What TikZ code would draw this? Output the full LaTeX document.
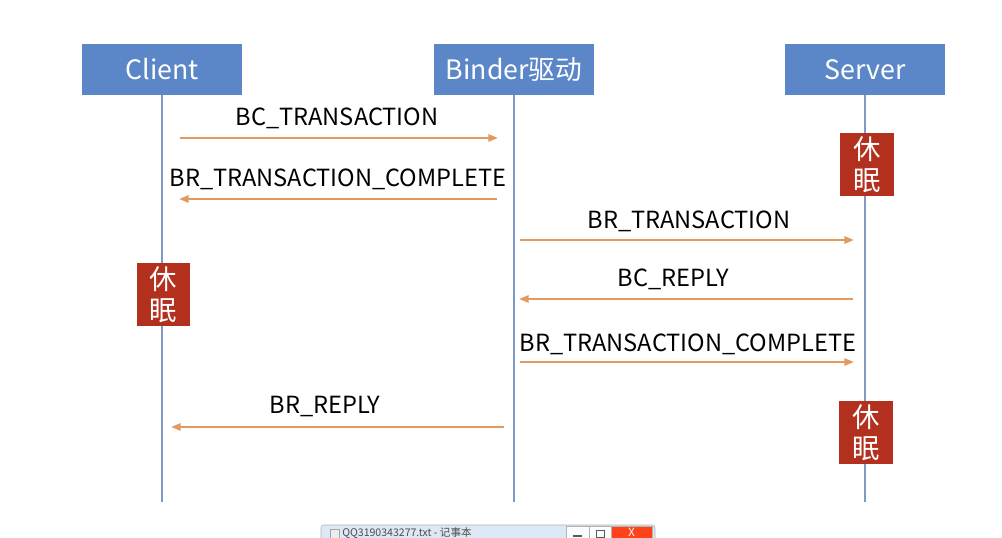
\documentclass[tikz,border=0pt]{standalone}
\usepackage{fontspec}
\setmainfont{Noto Sans CJK SC}
\usetikzlibrary{arrows.meta}
\definecolor{roleblue}{HTML}{5B87C8}
\definecolor{lifeblue}{HTML}{7F98C6}
\definecolor{msgorange}{HTML}{E39A60}
\definecolor{sleepred}{HTML}{B3301F}
\definecolor{winbar}{HTML}{DCE8F5}
\tikzset{
  role/.style={fill=roleblue, text=white, minimum width=4cm, minimum height=1.275cm,
    inner sep=0pt, font=\fontsize{19}{19}\selectfont},
  life/.style={lifeblue, line width=1.4pt},
  msg/.style={msgorange, line width=1.5pt, -{Triangle[length=2.4mm,width=1.8mm]}},
  msglabel/.style={text=black, inner sep=0pt, font=\fontsize{16.8}{17}\selectfont},
  sleep/.style={fill=sleepred, text=white, minimum width=1.33cm, minimum height=1.58cm,
    inner sep=0pt, align=center, font=\fontsize{19.5}{22}\selectfont},
}
\begin{document}
\begin{tikzpicture}[x=0.025cm, y=-0.025cm]
    \useasboundingbox (0,0) rectangle (1002,538);
    \clip (0,0) rectangle (1002,538);

    % roles and lifelines
    \node[role] (client) at (162,69.5) {Client};
    \node[role] (binder) at (514,69.5) {Binder驱动};
    \node[role] (server) at (865,69.5) {Server};
    \coordinate (clientend) at (162,502);
    \coordinate (binderend) at (514,502);
    \coordinate (serverend) at (865,502);
    \draw[life] (client.south) -- (clientend);
    \draw[life] (binder.south) -- (binderend);
    \draw[life] (server.south) -- (serverend);

    % sleeping
    \node[sleep] (sleepA) at (867,164.5) {休\\眠};
    \node[sleep] (sleepB) at (163.5,294.5) {休\\眠};
    \node[sleep] (sleepC) at (866,432.5) {休\\眠};

    % messages
    \coordinate (m1s) at (180,138);  \coordinate (m1e) at (498,138);
    \coordinate (m2s) at (497,199);  \coordinate (m2e) at (179,199);
    \coordinate (m3s) at (520,240);  \coordinate (m3e) at (854,240);
    \coordinate (m4s) at (853,299);  \coordinate (m4e) at (519,299);
    \coordinate (m5s) at (520,362);  \coordinate (m5e) at (854,362);
    \coordinate (m6s) at (504,427);  \coordinate (m6e) at (171,427);
    \draw[msg] (m1s) -- (m1e);
    \draw[msg] (m2s) -- (m2e);
    \draw[msg] (m3s) -- (m3e);
    \draw[msg] (m4s) -- (m4e);
    \draw[msg] (m5s) -- (m5e);
    \draw[msg] (m6s) -- (m6e);
    \node[msglabel] (l1) at (337,118) {BC\_TRANSACTION};
    \node[msglabel] (l2) at (338,179) {BR\_TRANSACTION\_COMPLETE};
    \node[msglabel] (l3) at (689,221) {BR\_TRANSACTION};
    \node[msglabel] (l4) at (673,279) {BC\_REPLY};
    \node[msglabel] (l5) at (688,344) {BR\_TRANSACTION\_COMPLETE};
    \node[msglabel] (l6) at (325,406) {BR\_REPLY};

    % window bar at the bottom
    \draw[gray!60, fill=winbar, rounded corners=2pt] (321,525) rectangle (655,550);
    \draw[gray!70, fill=gray!15] (330,529) rectangle (339,540);
    \node[anchor=west, text=gray!60!black, inner sep=0pt, font=\fontsize{7.5}{8}\selectfont]
      (wintitle) at (342,533.5) {QQ3190343277.txt - 记事本};
    \draw[gray!60, fill=white!85!winbar] (566,526) rectangle (589,545);
    \draw[gray!60, fill=white!85!winbar] (589,526) rectangle (611,545);
    \draw[gray!60, fill=red!65!orange!90!white] (611,526) rectangle (652,545);
    \draw[gray!70!black, line width=0.8pt] (573,536) -- (582,536);
    \draw[gray!70!black, line width=0.6pt] (596,530) rectangle (604,537);
    \node[text=white, inner sep=0pt, font=\fontsize{8}{8}\selectfont] (winclose) at (631.5,532) {X};
\end{tikzpicture}
\end{document}
